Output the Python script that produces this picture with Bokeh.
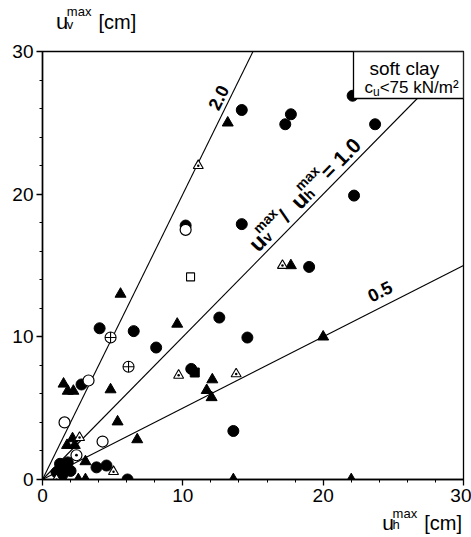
import math

from bokeh.core.properties import value
from bokeh.embed import file_html
from bokeh.layouts import column
from bokeh.models import BoxAnnotation, FixedTicker, Label, Range1d
from bokeh.plotting import figure
from bokeh.resources import INLINE

# Maximum vertical vs. horizontal displacement, soft clay (cu < 75 kN/m2), in cm
filled_circle_x = [14.2, 17.7, 17.3, 23.7, 22.1, 14.2, 10.2, 22.2, 19.0, 12.6, 14.6, 8.1,
                   4.07, 6.5, 10.6, 13.6, 2.78, 6.06, 3.85, 4.56,
                   1.0, 1.25, 1.5, 1.8, 1.4, 2.0]
filled_circle_y = [25.9, 25.6, 24.9, 24.9, 26.9, 17.9, 17.8, 19.9, 14.9, 11.35, 9.95, 9.25,
                   10.6, 10.4, 7.75, 3.4, 6.66, 0.0, 0.85, 0.98,
                   0.5, 1.1, 0.7, 1.2, 0.3, 0.6]

open_circle_x = [10.2, 3.28, 1.57, 4.28]
open_circle_y = [17.5, 6.94, 4.0, 2.66]

filled_triangle_x = [13.2, 17.7, 9.6, 12.1, 11.7, 12.05, 5.56, 4.85, 1.5, 1.8, 2.2, 5.35,
                     6.75, 2.14, 1.75, 2.3, 3.06, 2.55, 3.06, 13.6, 22.0, 20.0]
filled_triangle_y = [25.0, 15.0, 10.9, 7.0, 6.25, 5.75, 13.0, 6.3, 6.7, 6.2, 6.2, 4.05,
                     2.8, 2.87, 2.4, 2.4, 1.26, 0.0, 0.0, 0.0, 0.0, 10.0]

open_triangle_x = [11.1, 17.1, 9.7, 13.8, 2.64, 5.06, 1.0]
open_triangle_y = [22.0, 15.0, 7.3, 7.4, 2.94, 0.55, 0.0]

circle_cross_x = [4.85, 6.13]
circle_cross_y = [9.95, 7.9]

circle_dot_x = [2.42]
circle_dot_y = [1.7]

open_square_x = [10.55]
open_square_y = [14.2]

filled_square_x = [10.85]
filled_square_y = [7.5]

ratios = [2.0, 1.0, 0.5]
ratio_labels = ["2.0", "1.0", "0.5"]
axis_max = 30
major_ticks = [0, 10, 20, 30]
minor_ticks = list(range(0, 31, 2))

FONT = "Liberation Sans"
W = 471
HEAD_H, FOOT_H = 39, 30
LEFT, RIGHT, TOP, BOTTOM = 42, 8, 12, 28
FRAME_W = W - LEFT - RIGHT
FRAME_H = 428
MAIN_H = TOP + FRAME_H + BOTTOM
FRAME_TOP = HEAD_H + TOP              # page y of the frame's top edge
FRAME_BOTTOM = FRAME_TOP + FRAME_H    # page y of the frame's bottom edge
PXX = FRAME_W / axis_max
PXY = FRAME_H / axis_max
BASELINE_LIFT = 4                     # renderer draws the alphabetic baseline a bit low

REG = {"u": .556, "m": .833, "a": .556, "x": .5, "v": .5, "h": .556, " ": .278,
       "/": .278, "=": .584, "1": .556, ".": .278, "0": .556, "[": .278, "]": .278,
       "c": .5, "2": .556, "5": .556, "<": .584, "7": .556, "k": .5, "N": .722,
       "²": .333, "s": .5, "o": .556, "f": .278, "t": .278, "l": .222, "y": .5}
BOLD = {"u": .611, "m": .889, "a": .556, "x": .556, "v": .556, "h": .611, " ": .278,
        "/": .278, "=": .584, "1": .556, ".": .278, "0": .556, "2": .556, "5": .556}


def text_width(text, size, bold):
    table = BOLD if bold else REG
    return sum(table.get(ch, .55) for ch in text) * size


def layout_run(px, py, angle_deg, groups, bold=False):
    """Place groups of (text, size, rise) along a (rotated) baseline that starts
    at page position (px, py). Members of one group share a start; the group
    advances by its widest member. Yields (page_x, page_y, text, size)."""
    a = math.radians(angle_deg)
    ca, sa = math.cos(a), math.sin(a)
    cursor = 0.0
    for group in groups:
        adv = 0.0
        for text, size, rise in group:
            lift = rise + BASELINE_LIFT
            dx = cursor * ca - lift * sa
            dy = cursor * sa + lift * ca
            yield px + dx, py - dy, text, size
            adv = max(adv, text_width(text, size, bold))
        cursor += adv


def text_strip(height, page_top, run):
    """A plain strip (no axes, no title) holding an axis title as runs of text."""
    s = figure(width=W, height=height, output_backend="svg", toolbar_location=None,
               title=None, x_range=Range1d(0, W), y_range=Range1d(0, height),
               x_axis_type=None, y_axis_type=None, min_border=0)
    s.outline_line_color = None
    s.border_fill_color = "white"
    s.xgrid.visible = False
    s.ygrid.visible = False
    for px, py, text, size in layout_run(*run):
        s.text([px], [height - (py - page_top)], text=[text],
               text_font=value(FONT), text_font_size=f"{size}px",
               text_color="black", text_align="left", text_baseline="alphabetic")
    return s


# ---- main scatter plot
p = figure(width=W, height=MAIN_H, output_backend="svg", toolbar_location=None,
           title=None, x_range=Range1d(0, axis_max), y_range=Range1d(0, axis_max),
           min_border_left=LEFT, min_border_right=RIGHT,
           min_border_top=TOP, min_border_bottom=BOTTOM)
p.background_fill_color = "white"
p.border_fill_color = "white"
p.outline_line_color = "black"
p.outline_line_width = 1.3
p.xgrid.visible = False
p.ygrid.visible = False

for ax in (p.xaxis[0], p.yaxis[0]):
    ax.ticker = FixedTicker(ticks=major_ticks, minor_ticks=minor_ticks)
    ax.axis_line_color = "black"
    ax.axis_line_width = 1.5
    ax.major_tick_line_color = "black"
    ax.major_tick_line_width = 1.3
    ax.major_tick_out = 6
    ax.major_tick_in = 0
    ax.minor_tick_line_color = "black"
    ax.minor_tick_line_width = 1
    ax.minor_tick_out = 3
    ax.minor_tick_in = 0
    ax.major_label_text_font = FONT
    ax.major_label_text_font_size = "19px"
    ax.major_label_text_color = "black"
    ax.major_label_standoff = 3

# reference lines through the origin: u_v / u_h = const
for r in ratios:
    x_end = min(axis_max, axis_max / r)
    p.line([0, x_end], [0, r * x_end], line_color="black", line_width=1.1)

# measured points
p.scatter(filled_circle_x, filled_circle_y, marker="circle", size=11,
          fill_color="black", line_color="black")
p.scatter(open_circle_x, open_circle_y, marker="circle", size=11,
          fill_color="white", line_color="black", line_width=1.2)
p.scatter(filled_triangle_x, filled_triangle_y, marker="triangle", size=11,
          fill_color="black", line_color="black")
p.scatter(open_triangle_x, open_triangle_y, marker="triangle_dot", size=10,
          fill_color="white", line_color="black", line_width=1.1)
p.scatter(circle_cross_x, circle_cross_y, marker="circle_cross", size=11,
          fill_color="white", line_color="black", line_width=1.1)
p.scatter(circle_dot_x, circle_dot_y, marker="circle_dot", size=11,
          fill_color="white", line_color="black", line_width=1.2)
p.scatter(open_square_x, open_square_y, marker="square", size=8,
          fill_color="white", line_color="black", line_width=1.1)
p.scatter(filled_square_x, filled_square_y, marker="square", size=9,
          fill_color="black", line_color="black")

# material box in the upper right corner
p.add_layout(BoxAnnotation(left=(353 - LEFT) / PXX, right=axis_max,
                           bottom=axis_max - (98 - FRAME_TOP) / PXY, top=axis_max,
                           fill_color="white", fill_alpha=1.0,
                           line_color="black", line_width=1.3, line_alpha=1.0))


def plot_text(px, py, angle_deg, groups, bold=False):
    a = math.radians(angle_deg)
    for sx, sy, text, size in layout_run(px, py, angle_deg, groups, bold):
        p.add_layout(Label(x=(sx - LEFT) / PXX, y=(FRAME_BOTTOM - sy) / PXY,
                           text=text, angle=a, level="overlay",
                           text_font=FONT, text_font_size=f"{size}px",
                           text_font_style="bold" if bold else "normal",
                           text_color="black", text_align="left",
                           text_baseline="alphabetic"))


# material description
plot_text(369, 72, 0, [[("soft clay", 19, 0)]])
plot_text(364, 91, 0, [[("c", 17, 0)], [("u", 12, -4)], [("<75 kN/m²", 17, 0)]])

# ratio labels along the lines
ang = {r: math.degrees(math.atan(r * PXY / PXX)) for r in ratios}
plot_text(216, 110, ang[2.0], [[(ratio_labels[0], 18, 0)]], bold=True)
plot_text(255, 250, ang[1.0], [[("u", 23, 0)], [("max", 14, 10), ("v", 14, -3)],
                               [(" / ", 21, 0)], [("u", 23, 0)],
                               [("max", 14, 10), ("h", 14, -3)],
                               [(" = " + ratio_labels[1], 21, 0)]], bold=True)
plot_text(370, 300, ang[0.5], [[(ratio_labels[2], 18, 0)]], bold=True)

# ---- axis titles above and below the plot
head = text_strip(HEAD_H, 0,
                  (15, 25, 0, [[("u", 22, 0)], [("max", 13, 10), ("v", 13, -3)],
                               [("   ", 13, 0)], [("[cm]", 20, 0)]]))
foot = text_strip(FOOT_H, HEAD_H + MAIN_H,
                  (380, 526, 0, [[("u", 21, 0)], [("max", 13, 9), ("h", 13, -2)],
                                 [("   ", 13, 0)], [("[cm]", 20, 0)]]))

layout = column(head, p, foot, spacing=0)
open("out.html", "w").write(file_html(layout, INLINE))
